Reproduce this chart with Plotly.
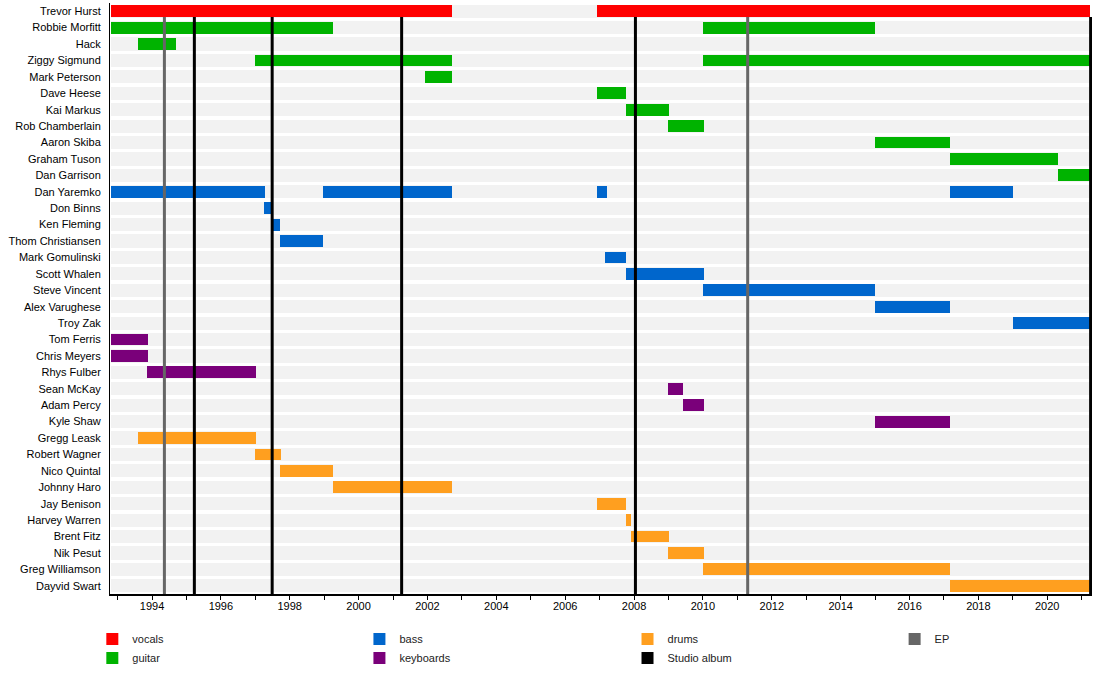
import plotly.graph_objects as go

# ---------------- data ----------------
MEMBERS = [
    "Trevor Hurst", "Robbie Morfitt", "Hack", "Ziggy Sigmund", "Mark Peterson",
    "Dave Heese", "Kai Markus", "Rob Chamberlain", "Aaron Skiba", "Graham Tuson",
    "Dan Garrison", "Dan Yaremko", "Don Binns", "Ken Fleming", "Thom Christiansen",
    "Mark Gomulinski", "Scott Whalen", "Steve Vincent", "Alex Varughese", "Troy Zak",
    "Tom Ferris", "Chris Meyers", "Rhys Fulber", "Sean McKay", "Adam Percy",
    "Kyle Shaw", "Gregg Leask", "Robert Wagner", "Nico Quintal", "Johnny Haro",
    "Jay Benison", "Harvey Warren", "Brent Fitz", "Nik Pesut", "Greg Williamson",
    "Dayvid Swart",
]

START = 1992.8
END = 2021.24

# (member, from, till)
VOCALS = [
    ("Trevor Hurst", START, 2002.71), ("Trevor Hurst", 2006.91, END),
]
GUITAR = [
    ("Robbie Morfitt", START, 1999.27), ("Robbie Morfitt", 2010.0, 2015.0),
    ("Hack", 1993.58, 1994.7),
    ("Ziggy Sigmund", 1997.0, 2002.71), ("Ziggy Sigmund", 2010.0, END),
    ("Mark Peterson", 2001.92, 2002.71),
    ("Dave Heese", 2006.91, 2007.76),
    ("Kai Markus", 2007.76, 2009.02),
    ("Rob Chamberlain", 2009.0, 2010.02),
    ("Aaron Skiba", 2015.0, 2017.18),
    ("Graham Tuson", 2017.17, 2020.3),
    ("Dan Garrison", 2020.3, END),
]
BASS = [
    ("Dan Yaremko", START, 1997.27), ("Dan Yaremko", 1998.97, 2002.71),
    ("Dan Yaremko", 2006.91, 2007.2), ("Dan Yaremko", 2017.17, 2019.0),
    ("Don Binns", 1997.26, 1997.5),
    ("Ken Fleming", 1997.49, 1997.73),
    ("Thom Christiansen", 1997.72, 1998.98),
    ("Mark Gomulinski", 2007.17, 2007.78),
    ("Scott Whalen", 2007.76, 2010.02),
    ("Steve Vincent", 2010.0, 2015.0),
    ("Alex Varughese", 2015.0, 2017.18),
    ("Troy Zak", 2019.0, END),
]
KEYBOARDS = [
    ("Tom Ferris", START, 1993.87),
    ("Chris Meyers", START, 1993.87),
    ("Rhys Fulber", 1993.86, 1997.02),
    ("Sean McKay", 2009.0, 2009.43),
    ("Adam Percy", 2009.42, 2010.02),
    ("Kyle Shaw", 2015.0, 2017.18),
]
DRUMS = [
    ("Gregg Leask", 1993.58, 1997.02),
    ("Robert Wagner", 1997.0, 1997.74),
    ("Nico Quintal", 1997.72, 1999.27),
    ("Johnny Haro", 1999.26, 2002.71),
    ("Jay Benison", 2006.91, 2007.77),
    ("Harvey Warren", 2007.76, 2007.92),
    ("Brent Fitz", 2007.91, 2009.02),
    ("Nik Pesut", 2009.0, 2010.02),
    ("Greg Williamson", 2010.0, 2017.18),
    ("Dayvid Swart", 2017.17, END),
]

STUDIO_ALBUMS = [1995.23, 1997.49, 2001.25, 2008.04, 2021.26]
EPS = [1994.36, 2011.3]

TICK_YEARS = list(range(1994, 2021, 2))

ROLE_COLORS = {
    "vocals": "#FF0000",
    "guitar": "#00B300",
    "bass": "#0066CC",
    "keyboards": "#7A007A",
    "drums": "#FF9F1F",
}
STUDIO_COLOR = "#000000"
EP_COLOR = "#666666"
STRIPE_COLOR = "#F2F2F2"

BAR_W = 0.72
STRIPE_W = 0.80
FONT = "Liberation Sans, Arial, sans-serif"

# ---------------- figure ----------------
row = {m: i for i, m in enumerate(MEMBERS)}
fig = go.Figure()

# background stripes
fig.add_trace(go.Bar(
    orientation="h",
    y=list(range(len(MEMBERS))),
    base=[START] * len(MEMBERS),
    x=[END - START] * len(MEMBERS),
    width=STRIPE_W,
    marker=dict(color=STRIPE_COLOR, line=dict(width=0)),
    showlegend=False, hoverinfo="skip",
))

roles = [
    ("vocals", VOCALS, "legend"),
    ("guitar", GUITAR, "legend"),
    ("bass", BASS, "legend2"),
    ("keyboards", KEYBOARDS, "legend2"),
    ("drums", DRUMS, "legend3"),
]
for name, segs, leg in roles:
    fig.add_trace(go.Bar(
        orientation="h",
        y=[row[m] for m, a, b in segs],
        base=[a for m, a, b in segs],
        x=[b - a for m, a, b in segs],
        width=BAR_W,
        marker=dict(color=ROLE_COLORS[name], line=dict(width=0)),
        name=name, legend=leg, hoverinfo="skip",
    ))

# legend-only entries for the release lines
fig.add_trace(go.Bar(x=[None], y=[None], orientation="h", name="Studio album",
                     marker=dict(color=STUDIO_COLOR, line=dict(width=0)),
                     legend="legend3", hoverinfo="skip"))
fig.add_trace(go.Bar(x=[None], y=[None], orientation="h", name="EP",
                     marker=dict(color=EP_COLOR, line=dict(width=0)),
                     legend="legend4", hoverinfo="skip"))

# release lines (drawn over bars, but below the first row's bar)
for d in STUDIO_ALBUMS:
    fig.add_shape(type="line", xref="x", yref="y", x0=d, x1=d,
                  y0=len(MEMBERS) - 0.5, y1=BAR_W / 2,
                  line=dict(color=STUDIO_COLOR, width=3), layer="above")
for d in EPS:
    fig.add_shape(type="line", xref="x", yref="y", x0=d, x1=d,
                  y0=len(MEMBERS) - 0.5, y1=BAR_W / 2,
                  line=dict(color=EP_COLOR, width=3), layer="above")

leg_common = dict(orientation="v", yanchor="top", xanchor="left",
                  font=dict(family=FONT, size=11, color="#222222"),
                  bgcolor="rgba(0,0,0,0)", borderwidth=0, itemwidth=30,
                  traceorder="normal")
LEG_Y = -0.0516
fig.update_layout(
    width=1100, height=700, autosize=False,
    margin=dict(l=110, r=8, t=3, b=106),
    paper_bgcolor="white", plot_bgcolor="white",
    barmode="overlay", bargap=0,
    font=dict(family=FONT, size=11, color="#000000"),
    showlegend=True,
    legend=dict(x=-0.018, y=LEG_Y, **leg_common),
    legend2=dict(x=0.254, y=LEG_Y, **leg_common),
    legend3=dict(x=0.527, y=LEG_Y, **leg_common),
    legend4=dict(x=0.799, y=LEG_Y, **leg_common),
    xaxis=dict(
        range=[START - 0.02, END + 0.06],
        tickvals=TICK_YEARS, ticktext=[str(y) for y in TICK_YEARS],
        ticks="outside", ticklen=4, tickwidth=1, tickcolor="black",
        minor=dict(dtick=1, tick0=1993, ticks="outside", ticklen=4,
                   tickcolor="black", tickwidth=1, showgrid=False),
        showgrid=False, zeroline=False,
        showline=True, linecolor="black", linewidth=1.5,
        ticklabelstandoff=-3,
        tickfont=dict(family=FONT, size=11, color="#000000"),
        fixedrange=True,
    ),
    yaxis=dict(
        range=[len(MEMBERS) - 0.5, -0.5],
        tickvals=list(range(len(MEMBERS))), ticktext=MEMBERS,
        ticks="", showgrid=False, zeroline=False,
        showline=True, linecolor="black", linewidth=1,
        ticklabelstandoff=6,
        tickfont=dict(family=FONT, size=11, color="#000000"),
        fixedrange=True,
    ),
)

fig.write_html(
    "out.html",
    config={"displayModeBar": False, "staticPlot": True},
    post_script="document.body.style.margin='0px';document.body.style.overflow='hidden';",
)
